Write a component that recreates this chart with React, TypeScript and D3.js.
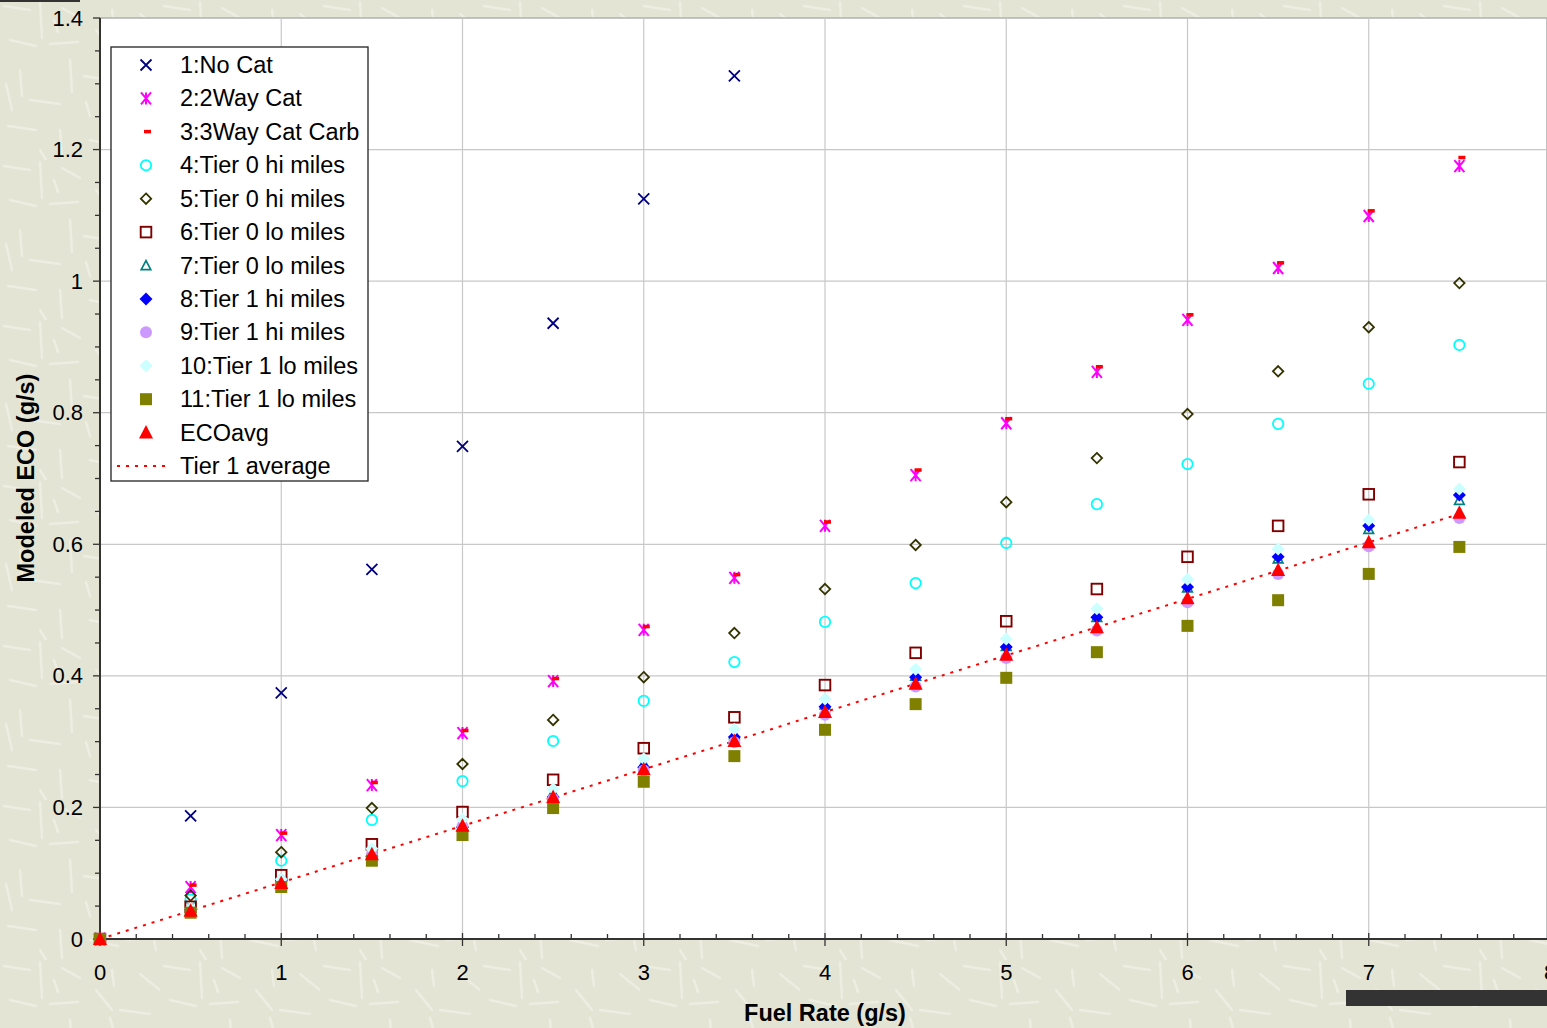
import React, { useEffect } from 'react';
import * as d3 from 'd3';

// fuel rate steps (g/s)
const fuel = [0, 0.5, 1, 1.5, 2, 2.5, 3, 3.5, 4, 4.5, 5, 5.5, 6, 6.5, 7, 7.5];

const noCat = [0, 0.187, 0.374, 0.562, 0.749, 0.936, 1.125, 1.312];
const twoWay = [0, 0.079, 0.158, 0.234, 0.313, 0.392, 0.470, 0.549, 0.628, 0.705, 0.784, 0.862, 0.941, 1.020, 1.099, 1.175];
const threeWay = [0, 0.080, 0.159, 0.236, 0.315, 0.394, 0.473, 0.552, 0.632, 0.711, 0.789, 0.868, 0.947, 1.026, 1.105, 1.186];
const tier0HiA = [0, 0.060, 0.119, 0.181, 0.240, 0.301, 0.362, 0.421, 0.482, 0.541, 0.602, 0.661, 0.722, 0.783, 0.844, 0.903];
const tier0HiB = [0, 0.066, 0.132, 0.199, 0.266, 0.333, 0.398, 0.465, 0.532, 0.599, 0.664, 0.731, 0.798, 0.863, 0.930, 0.997];
const tier0LoA = [0, 0.049, 0.097, 0.144, 0.193, 0.242, 0.290, 0.337, 0.386, 0.435, 0.483, 0.532, 0.581, 0.628, 0.676, 0.725];
const tier0LoB = [0, 0.044, 0.089, 0.133, 0.178, 0.222, 0.267, 0.311, 0.356, 0.400, 0.445, 0.489, 0.534, 0.578, 0.623, 0.667];
const tier1HiA = [0, 0.045, 0.090, 0.125, 0.170, 0.216, 0.261, 0.307, 0.353, 0.398, 0.444, 0.489, 0.535, 0.581, 0.628, 0.675];
const tier1HiB = [0, 0.043, 0.085, 0.128, 0.171, 0.213, 0.256, 0.299, 0.341, 0.384, 0.427, 0.469, 0.512, 0.555, 0.597, 0.640];
const tier1LoA = [0, 0.046, 0.091, 0.137, 0.182, 0.228, 0.274, 0.319, 0.365, 0.410, 0.456, 0.502, 0.547, 0.593, 0.637, 0.684];
const tier1LoB = [0, 0.040, 0.079, 0.119, 0.158, 0.199, 0.239, 0.278, 0.318, 0.357, 0.397, 0.436, 0.476, 0.515, 0.555, 0.596];
const ecoAvg = [0, 0.043, 0.085, 0.129, 0.172, 0.216, 0.258, 0.301, 0.345, 0.388, 0.432, 0.474, 0.518, 0.561, 0.603, 0.648];
const tier1Avg = [0, 0.043, 0.086, 0.129, 0.172, 0.215, 0.258, 0.301, 0.345, 0.388, 0.431, 0.474, 0.517, 0.560, 0.603, 0.646];

const xTicks = ['0', '1', '2', '3', '4', '5', '6', '7', '8'];
const yTicks = ['0', '0.2', '0.4', '0.6', '0.8', '1', '1.2', '1.4'];

type Shape = 'x' | 'star' | 'dash' | 'circle' | 'diamond' | 'square' | 'triangle';
const series: { name: string; values: number[]; shape: Shape; color: string; fill: boolean }[] = [
  { name: '1:No Cat', values: noCat, shape: 'x', color: '#000080', fill: false },
  { name: '2:2Way Cat', values: twoWay, shape: 'star', color: '#FF00FF', fill: false },
  { name: '3:3Way Cat Carb', values: threeWay, shape: 'dash', color: '#FF0000', fill: true },
  { name: '4:Tier 0 hi miles', values: tier0HiA, shape: 'circle', color: '#00FFFF', fill: false },
  { name: '5:Tier 0 hi miles', values: tier0HiB, shape: 'diamond', color: '#333300', fill: false },
  { name: '6:Tier 0 lo miles', values: tier0LoA, shape: 'square', color: '#800000', fill: false },
  { name: '7:Tier 0 lo miles', values: tier0LoB, shape: 'triangle', color: '#008080', fill: false },
  { name: '8:Tier 1 hi miles', values: tier1HiA, shape: 'diamond', color: '#0000FF', fill: true },
  { name: '9:Tier 1 hi miles', values: tier1HiB, shape: 'circle', color: '#CC99FF', fill: true },
  { name: '10:Tier 1 lo miles', values: tier1LoA, shape: 'diamond', color: '#CCFFFF', fill: true },
  { name: '11:Tier 1 lo miles', values: tier1LoB, shape: 'square', color: '#808000', fill: true },
  { name: 'ECOavg', values: ecoAvg, shape: 'triangle', color: '#FF0000', fill: true },
];

const W = 1547, H = 1028;
const x = d3.scaleLinear().domain([0, 8]).range([100, 1550]);
const y = d3.scaleLinear().domain([0, 1.4]).range([939, 18]);

function Marker({ shape, color, fill, cx, cy }: { shape: Shape; color: string; fill: boolean; cx: number; cy: number }) {
  const t = `translate(${cx},${cy})`;
  switch (shape) {
    case 'x':
      return <path transform={t} d="M-5.5,-5.5L5.5,5.5M-5.5,5.5L5.5,-5.5" stroke={color} strokeWidth={1.8} />;
    case 'star':
      return <path transform={t} d="M-5,-6L5,6M-5,6L5,-6M0,-6L0,6" stroke={color} strokeWidth={2} />;
    case 'dash':
      return <rect transform={t} x={-1} y={-3} width={7} height={3.5} fill={color} />;
    case 'circle':
      return fill
        ? <circle transform={t} r={6} fill={color} />
        : <circle transform={t} r={5.2} fill="none" stroke={color} strokeWidth={1.8} />;
    case 'diamond':
      return fill
        ? <path transform={t} d="M0,-6.5L6.5,0L0,6.5L-6.5,0Z" fill={color} />
        : <path transform={t} d="M0,-5.2L5.2,0L0,5.2L-5.2,0Z" fill="none" stroke={color} strokeWidth={1.8} />;
    case 'square':
      return fill
        ? <rect transform={t} x={-6} y={-6} width={12} height={12} fill={color} />
        : <rect transform={t} x={-5.3} y={-5.3} width={10.6} height={10.6} fill="none" stroke={color} strokeWidth={1.9} />;
    case 'triangle':
      return fill
        ? <path transform={t} d="M0,-7.5L7,6L-7,6Z" fill={color} />
        : <path transform={t} d="M0,-5L4.8,4.2L-4.8,4.2Z" fill="none" stroke={color} strokeWidth={1.7} />;
  }
}

// faint strokes for the paper-like background tile
const streaks = [
  [4, 6, 30, 10], [40, 2, 42, 38], [10, 40, 36, 46], [50, 44, 78, 42], [62, 8, 80, 18],
  [20, 70, 22, 96], [70, 60, 72, 92], [84, 76, 110, 80], [96, 30, 112, 50], [30, 100, 60, 104],
  [100, 96, 101, 118], [6, 84, 12, 110], [54, 20, 58, 32], [86, 102, 90, 116], [112, 10, 114, 26],
  [120, 50, 150, 54], [130, 80, 132, 112], [140, 14, 160, 30], [150, 120, 156, 150], [8, 126, 36, 130],
  [60, 130, 62, 158], [90, 140, 118, 146], [40, 150, 46, 160], [126, 140, 150, 138], [110, 58, 114, 72],
];

export default function App() {
  useEffect(() => {
    document.body.style.margin = '0';
  }, []);

  const font = 'Arial, "Liberation Sans", sans-serif';
  const minorX = d3.range(0, 41).map(i => i * 0.2);
  const minorY = d3.range(0, 29).map(i => i * 0.05);
  const line = d3.line<number>().x((_, i) => x(fuel[i])).y(d => y(d));
  const legendY = (i: number) => 65 + i * 33.42;
  const fs = 23.5;

  return (
    <svg width={W} height={H} style={{ display: 'block' }} fontFamily={font}>
      <defs>
        <pattern id="paper" width={160} height={160} patternUnits="userSpaceOnUse">
          <rect width={160} height={160} fill="#E4E4D5" />
          {streaks.map((s, i) => (
            <line key={i} x1={s[0]} y1={s[1]} x2={s[2]} y2={s[3]} stroke="#EDEDE2" strokeWidth={2.5} strokeLinecap="round" />
          ))}
        </pattern>
      </defs>
      <rect width={W} height={H} fill="url(#paper)" />
      <rect x={0} y={0} width={80} height={2} fill="#333" />

      {/* plot area */}
      <rect x={100} y={18} width={W - 100} height={921} fill="#fff" stroke="#808080" strokeWidth={1} />
      {xTicks.map((_, i) => i > 0 && (
        <line key={'gx' + i} x1={x(i)} x2={x(i)} y1={18} y2={939} stroke="#C8C8C8" strokeWidth={1.2} />
      ))}
      {yTicks.map((_, i) => i > 0 && (
        <line key={'gy' + i} x1={100} x2={W} y1={y(i * 0.2)} y2={y(i * 0.2)} stroke="#C8C8C8" strokeWidth={1.2} />
      ))}

      {/* axes */}
      <line x1={100} x2={W} y1={939} y2={939} stroke="#333" strokeWidth={2} />
      <line x1={100} x2={100} y1={18} y2={939} stroke="#333" strokeWidth={2} />
      {minorX.map((v, i) => (
        <line key={'tx' + i} x1={x(v)} x2={x(v)} y1={i % 5 === 0 ? 946 : 939} y2={i % 5 === 0 ? 933 : 934} stroke="#333" strokeWidth={1.3} />
      ))}
      {minorY.map((v, i) => (
        <line key={'ty' + i} x1={i % 4 === 0 ? 93 : 95} x2={100} y1={y(v)} y2={y(v)} stroke="#333" strokeWidth={1.3} />
      ))}
      {xTicks.map((t, i) => (
        <text key={'lx' + i} x={x(i)} y={980} fontSize={22} textAnchor="middle" fill="#000">{t}</text>
      ))}
      {yTicks.map((t, i) => (
        <text key={'ly' + i} x={83} y={y(i * 0.2) + 7.5} fontSize={22} textAnchor="end" fill="#000">{t}</text>
      ))}
      <text x={825} y={1021} fontSize={fs} fontWeight="bold" textAnchor="middle">Fuel Rate (g/s)</text>
      <text transform={`translate(34,478) rotate(-90)`} fontSize={fs} fontWeight="bold" textAnchor="middle">Modeled ECO (g/s)</text>

      {/* data */}
      <path d={line(tier1Avg) || ''} fill="none" stroke="#FF0000" strokeWidth={2} strokeDasharray="3,6" />
      {series.map(s => s.values.map((v, i) => (
        <Marker key={s.name + i} shape={s.shape} color={s.color} fill={s.fill} cx={x(fuel[i])} cy={y(v)} />
      )))}

      {/* legend */}
      <rect x={111} y={47} width={257} height={434} fill="#fff" stroke="#222" strokeWidth={1.3} />
      {series.map((s, i) => (
        <g key={'lg' + i}>
          <Marker shape={s.shape} color={s.color} fill={s.fill} cx={s.shape === 'dash' ? 145 : 146} cy={legendY(i) + (s.shape === 'dash' ? 1 : 0)} />
          <text x={180} y={legendY(i) + 8} fontSize={fs}>{s.name}</text>
        </g>
      ))}
      <line x1={117} x2={170} y1={legendY(12)} y2={legendY(12)} stroke="#FF0000" strokeWidth={2} strokeDasharray="3,6" />
      <text x={180} y={legendY(12) + 8} fontSize={fs}>Tier 1 average</text>

      <rect x={1346} y={990} width={W - 1346} height={16} fill="#333" />
    </svg>
  );
}
